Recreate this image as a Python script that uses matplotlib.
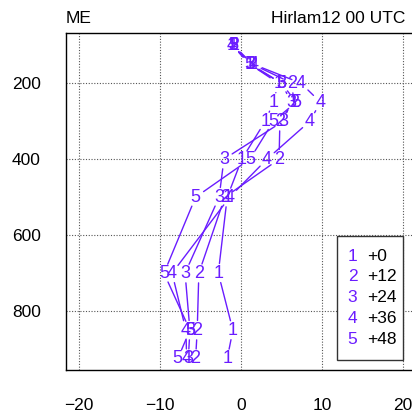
import matplotlib
matplotlib.use("Agg")
import matplotlib.pyplot as plt
from matplotlib.patches import Rectangle

plt.rcParams["font.family"] = ["Liberation Sans", "DejaVu Sans"]

# ── Data ──────────────────────────────────────────────────────────────────────
levels = [100, 150, 200, 250, 300, 400, 500, 700, 850, 925]
lead_labels = ["+0", "+12", "+24", "+36", "+48"]
run_00 = [-1.1, 1.1, 4.6, 4.0, 3.0, 0.1, -1.7, -2.8, -1.0, -1.7]
run_12 = [-0.9, 1.4, 6.3, 6.5, 4.8, 4.7, -2.0, -5.2, -5.4, -5.6]
run_24 = [-1.0, 1.2, 5.0, 6.2, 5.2, -2.1, -2.7, -6.9, -6.3, -6.5]
run_36 = [-1.2, 1.5, 7.4, 9.8, 8.5, 3.2, -1.4, -8.5, -6.8, -6.7]
run_48 = [-1.0, 1.0, 5.0, 6.8, 4.0, 1.1, -5.6, -9.5, -6.3, -7.8]
series = [run_00, run_12, run_24, run_36, run_48]

x_ticks = [-20, -10, 0, 10, 20]
y_ticks = [200, 400, 600, 800]

PURPLE = "#6a1cff"
FS = 12.5

fig = plt.figure(figsize=(4.12, 4.13), dpi=100)
ax = fig.add_axes([0.160, 0.104, 0.840, 0.816])
ax.set_xlim(-21.6, 21.1)
ax.set_ylim(955, 68)

ax.set_xticks(x_ticks)
ax.set_yticks(y_ticks)
ax.tick_params(length=0, labelsize=FS)
ax.tick_params(axis="x", pad=20)
ax.tick_params(axis="y", pad=18)
ax.grid(True, linestyle=(0, (1, 1.5)), color="#555555", linewidth=0.8)
ax.spines["right"].set_visible(False)
for s in ["left", "top", "bottom"]:
    ax.spines[s].set_linewidth(1.0)

# profiles: segments trimmed around the number labels
for i, xs in enumerate(series):
    lab = str(i + 1)
    for k in range(len(levels) - 1):
        ax.annotate("", xy=(xs[k + 1], levels[k + 1]), xytext=(xs[k], levels[k]),
                    arrowprops=dict(arrowstyle="-", color=PURPLE, lw=1.0,
                                    shrinkA=7, shrinkB=7))
    for x, p in zip(xs, levels):
        ax.text(x, p, lab, color=PURPLE, fontsize=13, ha="center", va="center")

# legend box
ax.add_patch(Rectangle((0.783, 0.030), 0.191, 0.368, transform=ax.transAxes,
                       facecolor="white", edgecolor="#333333", lw=1.0, zorder=5))
for i, lab in enumerate(lead_labels):
    y = 0.338 - i * 0.0615
    ax.text(0.828, y, str(i + 1), color=PURPLE, fontsize=FS, ha="center",
            va="center", transform=ax.transAxes, zorder=6)
    ax.text(0.871, y, lab, color="black", fontsize=FS, ha="left",
            va="center", transform=ax.transAxes, zorder=6)

fig.text(0.160, 0.955, "ME", fontsize=FS, ha="left", va="center")
fig.text(0.983, 0.955, "Hirlam12 00 UTC", fontsize=FS, ha="right", va="center")

fig.savefig("out.png", dpi=100)
